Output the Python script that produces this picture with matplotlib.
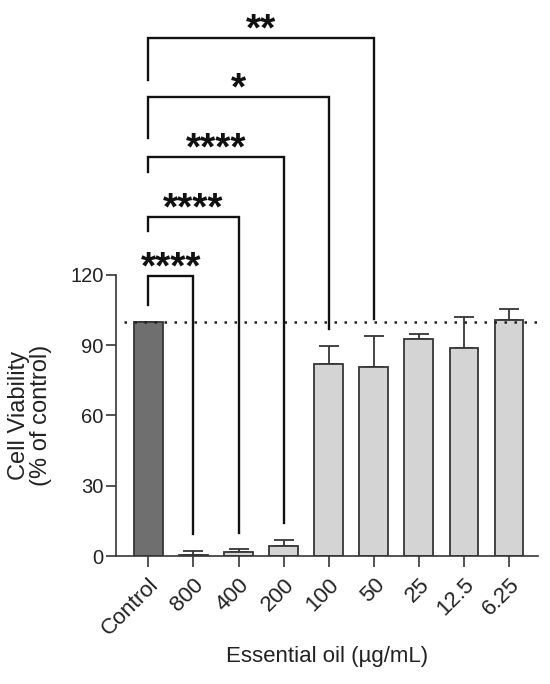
import matplotlib.pyplot as plt

plt.rcParams['font.family'] = ['Liberation Sans', 'DejaVu Sans']

# --- values ---
groups = ["Control", "800", "400", "200", "100", "50", "25", "12.5", "6.25"]
viability = [100.0, 0.6, 1.6, 4.3, 82.1, 80.5, 92.7, 89.0, 100.7]
err_up = [0.0, 1.4, 1.2, 2.4, 7.5, 13.4, 2.2, 13.0, 4.7]

# significance brackets: control vs target group
sig_targets = [1, 2, 3, 4, 5]
sig_labels = ["****", "****", "****", "*", "**"]
sig_top = [119.7, 144.7, 170.4, 196.0, 221.2]
sig_left_end = [107.3, 138.6, 163.8, 178.5, 203.4]
sig_right_end = [9.5, 10.0, 14.0, 97.0, 101.0]

colors = ["#6f6f6f"] + ["#d4d4d4"] * (len(groups) - 1)
edge = "#363636"

fig = plt.figure(figsize=(5.5, 6.84), dpi=100)
ax = fig.add_axes([0.211, 0.1871, 0.767, 0.8129])

x = list(range(len(groups)))
ax.bar(x, viability, width=0.64, color=colors, edgecolor=edge, linewidth=1.3, zorder=2)
ax.errorbar(x, viability, yerr=[[0] * len(x), err_up], fmt="none",
            ecolor=edge, elinewidth=1.3, capsize=7, capthick=1.3, zorder=1)

# reference line at 100 %
ax.hlines(100, -0.55, 8.62, color="#222222", linestyle=(0, (1, 3.0)),
          linewidth=1.8, zorder=3)

# brackets
for t, lab, top, le, re_ in zip(sig_targets, sig_labels, sig_top, sig_left_end, sig_right_end):
    ax.plot([0, 0, t, t], [le, top, top, re_], color="#111111", linewidth=1.7,
            solid_joinstyle="miter", zorder=4, clip_on=False)
    ax.text(t / 2, top - 1.0, lab, ha="center", va="baseline", fontsize=28,
            fontweight="bold", color="#111111")

ax.set_xlim(-0.716, 8.64)
ax.set_ylim(0, 237.4)
ax.set_yticks([0, 30, 60, 90, 120])
ax.set_xticks(x)
ax.set_xticklabels(groups, rotation=45, ha="right", rotation_mode="anchor")

for s in ["top", "right"]:
    ax.spines[s].set_visible(False)
ax.spines["left"].set_bounds(0, 120)
for s in ["left", "bottom"]:
    ax.spines[s].set_color(edge)
    ax.spines[s].set_linewidth(1.2)

ax.tick_params(axis="both", colors=edge, labelcolor="#222222",
               width=1.2, length=7)
ax.tick_params(axis="y", labelsize=14.5, pad=2)
ax.tick_params(axis="x", labelsize=16, length=8, pad=5)

ax.set_xlabel("Essential oil (\u00b5g/mL)", fontsize=16, color="#222222", labelpad=5)
ax.text(-0.204, 60, "Cell Viability\n(% of control)", rotation=90, ha="center",
        va="center", fontsize=17, linespacing=0.95, color="#222222",
        transform=ax.get_yaxis_transform())

fig.savefig("out.png", dpi=100)
